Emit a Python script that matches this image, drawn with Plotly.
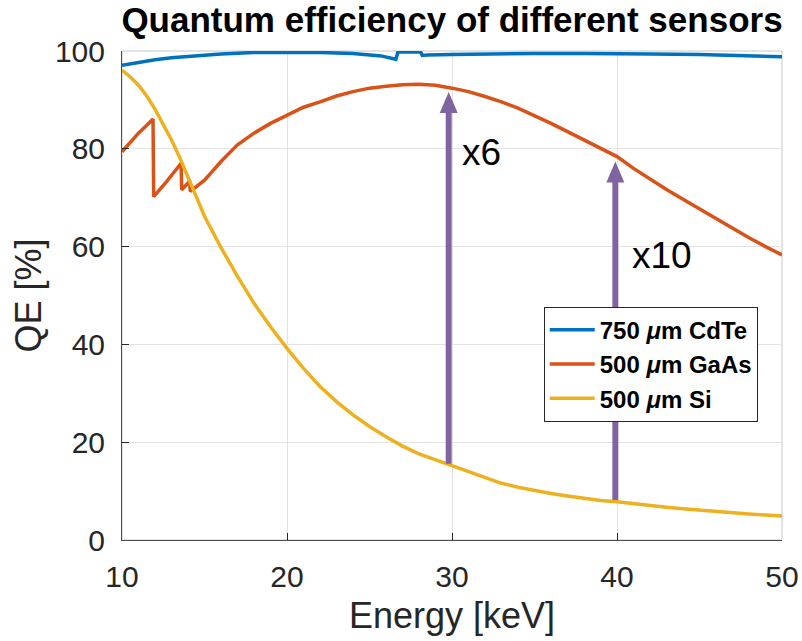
import plotly.graph_objects as go

# ---------------- data ----------------
energy_cdte = [10, 11, 12, 13, 14, 15, 16, 18, 20, 22, 24, 25, 25.7, 26.6,
               26.72, 27, 28, 28.1, 28.2, 28.5, 30, 32, 35, 38, 40, 42, 45, 48, 50]
qe_cdte = [97.1, 97.7, 98.2, 98.6, 98.9, 99.2, 99.4, 99.7, 99.7, 99.7, 99.5, 99.3, 99.0, 98.3,
           99.8, 99.8, 99.8, 99.8, 99.1, 99.2, 99.3, 99.4, 99.5, 99.5, 99.5, 99.4, 99.3, 99.0, 98.8]

energy_gaas = [10.0, 10.5, 11.0, 11.5, 11.88, 11.92, 12.3, 12.7, 13.1, 13.58, 13.62, 13.85,
               14.1, 14.14, 14.5, 15, 15.5, 16, 17, 18, 19, 20, 21, 22, 23, 24, 25, 26, 27,
               28, 29, 30, 31, 32, 33, 34, 35, 36, 37, 38, 39, 40, 41, 42, 43, 44, 45, 46,
               47, 48, 49, 50]
qe_gaas = [79.4, 81.3, 83.2, 84.8, 86.1, 70.2, 71.6, 73.3, 75.0, 77.0, 71.6, 72.4,
           73.4, 71.3, 72.3, 73.6, 75.5, 77.4, 80.8, 83.2, 85.2, 86.9, 88.5, 89.6, 90.8, 91.7, 92.4, 92.8, 93.1,
           93.2, 93.0, 92.4, 91.7, 90.7, 89.6, 88.3, 86.8, 85.2, 83.5, 81.8, 80.1, 78.4, 76.0, 73.8, 71.7, 69.7, 67.7, 65.7,
           63.7, 61.8, 60.0, 58.3]

energy_si = [10, 10.5, 11, 11.5, 12, 12.5, 13, 13.5, 14, 14.5, 15, 16, 17, 18, 19, 20, 21, 22,
             23, 24, 25, 26, 27, 28, 29, 30, 31, 32, 33, 34, 35, 36, 37, 38, 39, 40, 41, 42,
             43, 44, 45, 46, 47, 48, 49, 50]
qe_si = [96.1, 94.7, 93.0, 90.8, 88.1, 85.0, 81.8, 78.2, 74.3, 70.2, 66.2, 59.8, 53.9, 48.4, 43.6, 39.2, 35.1, 31.4,
         28.3, 25.6, 23.2, 21.1, 19.2, 17.6, 16.4, 15.3, 14.0, 12.8, 11.6, 10.8, 10.1, 9.5, 9.0, 8.5, 8.1, 7.8, 7.4, 7.0,
         6.7, 6.4, 6.1, 5.8, 5.5, 5.3, 5.1, 4.9]

series_names = ["750 <i>μ</i>m CdTe", "500 <i>μ</i>m GaAs", "500 <i>μ</i>m Si"]

# arrows: energy, start QE, tip QE, label
arrow_energy = [29.8, 39.9]
arrow_start = [15.6, 8.2]
arrow_tip = [91.6, 77.4]
arrow_labels = ["x6", "x10"]
label_energy = [31.8, 42.7]
label_qe = [79.3, 58.1]

x_ticks = [10, 20, 30, 40, 50]
y_ticks = [0, 20, 40, 60, 80, 100]

# ---------------- figure ----------------
colors = ["#0072BD", "#D95319", "#EDB120"]
purple = "#8064A2"
FONT = "Liberation Sans, Arial, sans-serif"

fig = go.Figure()
for xs, ys, name, c in zip([energy_cdte, energy_gaas, energy_si],
                           [qe_cdte, qe_gaas, qe_si], series_names, colors):
    fig.add_trace(go.Scatter(x=xs, y=ys, mode="lines", name=name,
                             line=dict(color=c, width=3.5)))

shapes = [dict(type="rect", xref="paper", yref="paper", x0=0, x1=1, y0=0, y1=1,
               line=dict(color="#C8C8C8", width=1), layer="below")]
for ex, y0, y1 in zip(arrow_energy, arrow_start, arrow_tip):
    shapes.append(dict(type="line", xref="x", yref="y", x0=ex, x1=ex, y0=y0, y1=y1 - 3,
                       line=dict(color=purple, width=6), layer="above"))
    shapes.append(dict(type="path", xref="x", yref="y", xsizemode="pixel", ysizemode="pixel",
                       xanchor=ex, yanchor=y1, path="M -9 -21 L 9 -21 L 0 0 Z",
                       fillcolor=purple, line=dict(width=0), layer="above"))

annotations = []
for ex, ey, t in zip(label_energy, label_qe, arrow_labels):
    annotations.append(dict(x=ex, y=ey, xref="x", yref="y", text=t, showarrow=False,
                            font=dict(family=FONT, size=37, color="black")))

axis_common = dict(ticks="inside", ticklen=7, tickcolor="#262626", showgrid=True,
                   gridcolor="#E3E3E3", gridwidth=1, showline=True, linecolor="#4D4D4D",
                   linewidth=1, zeroline=False, automargin=False,
                   tickfont=dict(family=FONT, size=30, color="#262626"))

fig.update_layout(
    width=802, height=641,
    margin=dict(l=122, r=20, t=51, b=101),
    paper_bgcolor="white", plot_bgcolor="white",
    title=dict(text="<b>Quantum efficiency of different sensors</b>", x=0.5, xref="paper",
               xanchor="center", y=1 - 20 / 641, yref="container", yanchor="middle",
               font=dict(family=FONT, size=35, color="black"), automargin=False),
    xaxis=dict(range=[10, 50], tickvals=x_ticks, ticklabelstandoff=10,
               title=dict(text="Energy [keV]", font=dict(family=FONT, size=36, color="#262626"),
                          standoff=10),
               **axis_common),
    yaxis=dict(range=[0, 100], tickvals=y_ticks, ticklabelstandoff=10,
               title=dict(text="QE [%]", font=dict(family=FONT, size=36, color="#262626"),
                          standoff=2),
               **axis_common),
    legend=dict(x=0.639, y=0.477, xanchor="left", yanchor="top",
                bgcolor="white", bordercolor="#262626", borderwidth=1,
                font=dict(family=FONT, size=24, color="black", weight="bold"),
                itemwidth=45, tracegroupgap=0),
    shapes=shapes, annotations=annotations, showlegend=True,
)

fig.write_html("out.html", config={"displayModeBar": False},
               post_script="document.body.style.margin='0';document.body.style.padding='0';")
